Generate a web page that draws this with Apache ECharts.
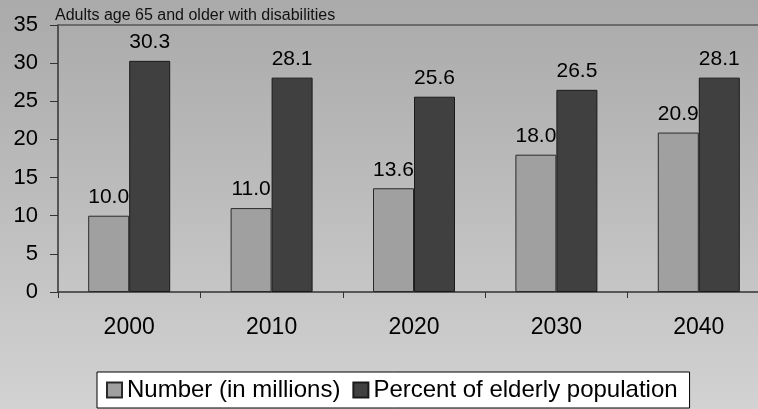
<!DOCTYPE html>
<html>
<head>
<meta charset="utf-8">
<script src="https://cdn.jsdelivr.net/npm/echarts@6/dist/echarts.min.js"></script>
<style>
  html, body { margin: 0; padding: 0; overflow: hidden; }
  body {
    width: 758px; height: 409px;
    background: linear-gradient(to bottom, #aaaaaa 0%, #bdbdbd 50%, #d2d2d2 100%);
  }
  /* the plot runs slightly past the right edge of the page */
  #chart { width: 770px; height: 409px; }
</style>
</head>
<body>
<div id="chart"></div>
<script>
// Adults age 65 and older with disabilities, by decade
const years = ['2000', '2010', '2020', '2030', '2040'];
const numberMillions = [10.0, 11.0, 13.6, 18.0, 20.9];
const percentElderly = [30.3, 28.1, 25.6, 26.5, 28.1];
const yTicks = { min: 0, max: 35, interval: 5 };

const FONT = '"Liberation Sans", Arial, sans-serif';

const chart = echarts.init(document.getElementById('chart'), null, { renderer: 'canvas' });

const labelStyle = {
  show: true,
  position: 'top',
  distance: 8,
  color: '#000',
  fontSize: 21,
  fontFamily: FONT,
  formatter: p => Number(p.value).toFixed(1)
};

chart.setOption({
  backgroundColor: 'transparent',
  animation: false,
  title: {
    text: 'Adults age 65 and older with disabilities',
    left: 55,
    top: 8,
    padding: 0,
    textStyle: { fontSize: 16, fontWeight: 'normal', color: '#111', fontFamily: FONT }
  },
  legend: {
    left: 97,
    top: 372,
    padding: [6, 12, 6, 9],
    itemGap: 12,
    itemWidth: 15,
    itemHeight: 15,
    icon: 'rect',
    backgroundColor: '#ffffff',
    borderColor: '#000000',
    borderWidth: 1,
    textStyle: { fontSize: 24, color: '#000', fontFamily: FONT },
    data: ['Number (in millions)', 'Percent of elderly population']
  },
  grid: { left: 58, top: 25, right: 0, bottom: 117, containLabel: false },
  xAxis: [
    {
      type: 'category',
      data: years,
      position: 'bottom',
      axisLine: { show: true, lineStyle: { color: '#333', width: 1.5 } },
      axisTick: { show: true, length: 6, inside: false, lineStyle: { color: '#333' } },
      axisLabel: { fontSize: 23, color: '#000', fontFamily: FONT, margin: 24 },
      splitLine: { show: false }
    },
    {
      type: 'category',
      data: years,
      position: 'top',
      axisLine: { show: true, lineStyle: { color: '#555', width: 1.5 } },
      axisTick: { show: false },
      axisLabel: { show: false },
      splitLine: { show: false }
    }
  ],
  yAxis: {
    type: 'value',
    min: yTicks.min,
    max: yTicks.max,
    interval: yTicks.interval,
    axisLine: { show: true, lineStyle: { color: '#333', width: 1.5 } },
    axisTick: { show: true, length: 8, lineStyle: { color: '#333' } },
    axisLabel: { fontSize: 22, color: '#000', fontFamily: FONT, margin: 20 },
    splitLine: { show: false }
  },
  series: [
    {
      name: 'Number (in millions)',
      type: 'bar',
      data: numberMillions,
      barWidth: 41,
      barGap: '0%',
      itemStyle: { color: '#a0a0a0', borderColor: '#2a2a2a', borderWidth: 1 },
      label: labelStyle
    },
    {
      name: 'Percent of elderly population',
      type: 'bar',
      data: percentElderly,
      barWidth: 41,
      barGap: '0%',
      itemStyle: { color: '#404040', borderColor: '#1a1a1a', borderWidth: 1 },
      label: labelStyle
    }
  ]
});
</script>
</body>
</html>
